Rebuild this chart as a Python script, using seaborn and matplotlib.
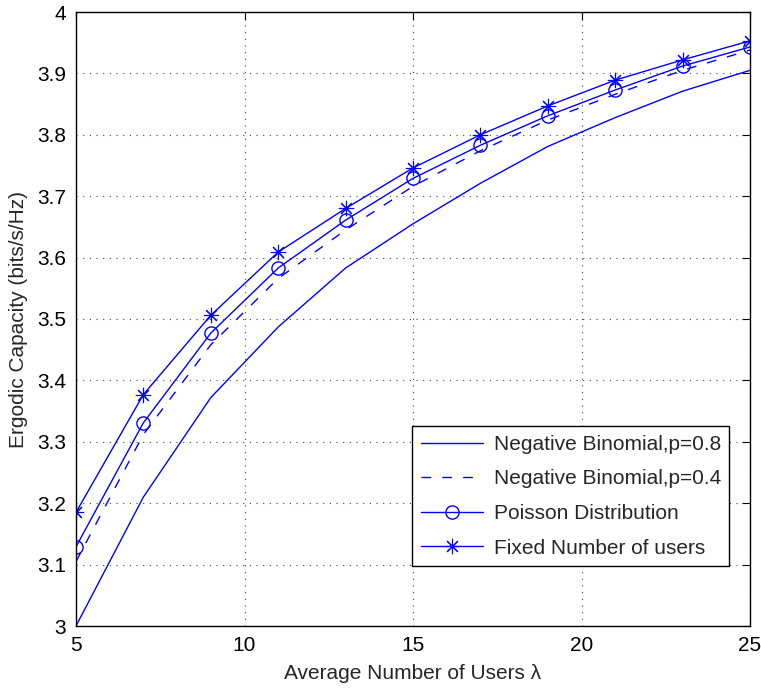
import numpy as np
import pandas as pd
import matplotlib
matplotlib.use("Agg")
import matplotlib.pyplot as plt
import seaborn as sns

lam = [5, 7, 9, 11, 13, 15, 17, 19, 21, 23, 25]
nb08 = [3.000, 3.210, 3.372, 3.487, 3.583, 3.655, 3.721, 3.781, 3.828, 3.871, 3.905]
nb04 = [3.105, 3.312, 3.458, 3.566, 3.645, 3.716, 3.774, 3.824, 3.866, 3.905, 3.938]
poisson = [3.129, 3.331, 3.477, 3.583, 3.661, 3.729, 3.783, 3.831, 3.873, 3.912, 3.943]
fixed = [3.185, 3.377, 3.506, 3.609, 3.680, 3.746, 3.800, 3.847, 3.889, 3.922, 3.953]
labels = ["Negative Binomial,p=0.8", "Negative Binomial,p=0.4",
          "Poisson Distribution", "Fixed Number of users"]
xticks = [5, 10, 15, 20, 25]
yticks = [3, 3.1, 3.2, 3.3, 3.4, 3.5, 3.6, 3.7, 3.8, 3.9, 4]
yticklabels = ["3", "3.1", "3.2", "3.3", "3.4", "3.5", "3.6", "3.7", "3.8", "3.9", "4"]

sns.set_theme(style="white")
plt.rcParams['font.family'] = ['Liberation Sans', 'DejaVu Sans']

fig = plt.figure(figsize=(7.61, 6.92), dpi=100)
ax = fig.add_axes([76/761, 66/692, 674/761, 614/692])

blue = (0, 0, 1)
df = pd.DataFrame({"lam": lam, "nb08": nb08, "nb04": nb04, "poisson": poisson, "fixed": fixed})

sns.lineplot(data=df, x="lam", y="nb08", ax=ax, color=blue, lw=1.0, label=labels[0])
sns.lineplot(data=df, x="lam", y="nb04", ax=ax, color=blue, lw=1.0, label=labels[1],
             linestyle=(0, (7, 8)))
sns.lineplot(data=df, x="lam", y="poisson", ax=ax, color=blue, lw=1.0, label=labels[2],
             marker="o", markersize=9.5, markerfacecolor="none", markeredgecolor=blue,
             markeredgewidth=1.0)
sns.lineplot(data=df, x="lam", y="fixed", ax=ax, color=blue, lw=1.0, label=labels[3],
             marker=(8, 2, 0), markersize=11, markeredgecolor=blue, markeredgewidth=0.8)

ax.set_xlim(5, 25)
ax.set_ylim(3, 4)
ax.set_xticks(xticks)
ax.set_yticks(yticks)
ax.set_xticklabels([str(t) for t in xticks])
ax.set_yticklabels(yticklabels)
ax.grid(True, color="0.25", linestyle=(0, (1, 5)), linewidth=0.8)
ax.tick_params(direction="in", length=6, width=0.8, top=True, right=True,
               labelsize=15, colors="black", pad=7)
for s in ax.spines.values():
    s.set_color("black")
    s.set_linewidth(1.0)
    s.set_visible(True)

ax.set_xlabel("Average Number of Users λ", fontsize=15, labelpad=7)
ax.set_ylabel("Ergodic Capacity (bits/s/Hz)", fontsize=15, labelpad=7)

leg = ax.legend(loc="lower left", bbox_to_anchor=(0.499, 0.0977), fontsize=15,
                frameon=True, fancybox=False, edgecolor="black", framealpha=1,
                handlelength=3.0, labelspacing=0.75, borderpad=0.4, handletextpad=0.5,
                borderaxespad=0)
leg.get_frame().set_linewidth(1.0)

fig.savefig("out.png", dpi=100)
